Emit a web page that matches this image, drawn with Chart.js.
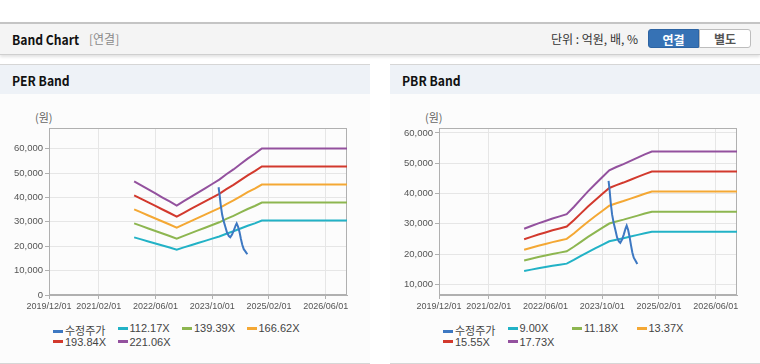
<!DOCTYPE html>
<html>
<head>
<meta charset="utf-8">
<script src="https://cdn.jsdelivr.net/npm/chart.js@4.4.0/dist/chart.umd.min.js"></script>
<style>
  html, body { margin:0; padding:0; background:#fff; width:760px; height:364px; overflow:hidden; }
  body { position:relative; font-family:"Noto Sans CJK KR","Noto Sans",sans-serif; }
  .topbar { position:absolute; left:0; top:22px; width:760px; height:30px; background:#f4f4f4;
            border-top:2px solid #c4c4c4; border-bottom:1px solid #cfcfcf; box-shadow:0 2px 3px rgba(0,0,0,0.12); }
  .title { position:absolute; left:12px; top:5px; font-size:13.5px; font-weight:bold; color:#111; transform:scaleX(0.9); transform-origin:0 0; }
  .sub { position:absolute; left:89px; top:6px; font-size:12px; color:#8a8a8a; }
  .unit { position:absolute; left:551px; top:6px; font-size:12px; color:#333; }
  .btn1 { position:absolute; left:648px; top:5px; width:51px; height:19px; background:#3672b5; color:#fff;
          font-size:12px; font-weight:bold; text-align:center; line-height:19px; border-radius:3px 0 0 3px; border:1px solid #2d64a3; box-sizing:border-box; }
  .btn2 { position:absolute; left:699px; top:5px; width:52px; height:19px; background:#fff; color:#555;
          font-size:12px; font-weight:bold; text-align:center; line-height:17px; border-radius:0 3px 3px 0; border:1px solid #bdbdbd; box-sizing:border-box; }
  .panel { position:absolute; top:64px; width:370px; height:298px; background:#fcfcfc; border-top:1px solid #d6d6d6; border-bottom:1px solid #d6d6d6; }
  .phead { position:absolute; left:0; top:0; width:100%; height:29px; background:#eef2f7; }
  .phead span { position:absolute; left:12px; top:5px; font-size:13.5px; font-weight:bold; color:#111; transform:scaleX(0.9); transform-origin:0 0; }
  canvas { position:absolute; }
  .ytitle { position:absolute; font-size:11px; color:#666; }
  .legend { position:absolute; font-family:"Liberation Sans",Arial,sans-serif; font-size:11px; color:#444; }
  .li { position:absolute; white-space:nowrap; }
  .li i { display:inline-block; width:10px; height:3px; vertical-align:middle; margin-right:2px; position:relative; top:-1px; }
</style>
</head>
<body>
<div class="topbar">
  <span class="title">Band Chart</span><span class="sub">[연결]</span>
  <span class="unit">단위 : 억원, 배, %</span>
  <div class="btn1">연결</div><div class="btn2">별도</div>
</div>
<div class="panel" style="left:0"><div class="phead"><span>PER Band</span></div></div>
<div class="panel" style="left:390px"><div class="phead"><span>PBR Band</span></div></div>
<div class="ytitle" style="left:35px; top:109px">(원)</div>
<div class="ytitle" style="left:425px; top:109px">(원)</div>
<canvas id="per" width="370" height="220" style="left:0; top:100px"></canvas>
<canvas id="pbr" width="370" height="220" style="left:390px; top:100px"></canvas>
<div class="legend" id="legPer" style="left:53px; top:322px"></div>
<div class="legend" id="legPbr" style="left:443px; top:322px"></div>
<script>
// ---- x axis (months since 2019/12/01) ----
const xTickMonths = [0, 14, 30, 46, 62, 78];
const xTickLabels = ['2019/12/01','2021/02/01','2022/06/01','2023/10/01','2025/02/01','2026/06/01'];
const bandMonths = [24,26,28,30,32,34,36,38,40,42,44,46,48,50,52,54,56,58,60,84];

// ---- adjusted price (수정주가) ----
const priceMonths = [47.8,48.1,48.4,48.8,49.2,49.7,50.2,50.7,51.1,51.6,52.1,52.6,52.9,53.3,53.7,54.1,54.5,54.9,55.4,55.9];
const priceValues = [44200,41000,37000,33000,30500,28000,25500,24200,23700,24800,26500,28500,29400,28000,25800,23000,20500,18800,17800,16700];

// ---- PER band ----
const perLabels = ['112.17X','139.39X','166.62X','193.84X','221.06X'];
const per1 = [23634,22804,21963,21133,20291,19461,18620,19518,20415,21312,22210,23107,24004,25126,26136,27257,28379,29389,30510,30510];
const per2 = [29369,28338,27293,26261,25216,24184,23139,24254,25369,26484,27599,28714,29829,31223,32478,33872,35266,36520,37914,37914];
const per3 = [35107,33874,32624,31391,30142,28909,27659,28992,30325,31658,32991,34324,35657,37323,38822,40489,42155,43654,45321,45321];
const per4 = [40842,39408,37954,36520,35066,33631,32177,33728,35279,36830,38380,39931,41482,43420,45165,47103,49042,50786,52724,52724];
const per5 = [46577,44941,43284,41648,39990,38354,36696,38464,40233,42001,43770,45538,47307,49517,51507,53718,55928,57918,60128,60128];
const perYTicks = [0,10000,20000,30000,40000,50000,60000];

// ---- PBR band ----
const pbrLabels = ['9.00X','11.18X','13.37X','15.55X','17.73X'];
const pbr1 = [14400,14850,15300,15705,16110,16470,16830,18045,19350,20655,21870,23040,24210,24750,25245,25785,26325,26865,27360,27360];
const pbr2 = [17888,18447,19006,19509,20012,20459,20907,22416,24037,25658,27167,28621,30074,30745,31360,32031,32702,33372,33987,33987];
const pbr3 = [21392,22061,22729,23331,23932,24467,25002,26807,28746,30684,32489,34227,35965,36768,37503,38305,39107,39909,40645,40645];
const pbr4 = [24880,25658,26435,27135,27835,28457,29079,31178,33433,35687,37787,39808,41830,42763,43618,44551,45484,46417,47272,47272];
const pbr5 = [28368,29255,30141,30939,31737,32446,33155,35549,38120,40690,43084,45389,47694,48758,49733,50796,51860,52924,53899,53899];
const pbrYTicks = [10000,20000,30000,40000,50000,60000];

const priceLabel = '수정주가';
const colors = ['#3d78c2','#22b2c6','#8db650','#f4a834','#d2392d','#93519e'];

function pts(xs, ys){ return xs.map((x,i)=>({x:x, y:ys[i]})); }

const boxPlugin = {
  id:'box',
  beforeDatasetsDraw(chart){
    const a = chart.chartArea, c = chart.ctx;
    c.save(); c.strokeStyle = '#b0b0b0'; c.lineWidth = 1;
    c.strokeRect(Math.round(a.left)+0.5, Math.round(a.top)+0.5, Math.round(a.right-a.left)-1, Math.round(a.bottom-a.top)-1);
    c.restore();
  }
};

function makeChart(id, bandSeries, labels, yMin, yMax, yTicks){
  const datasets = [{label:priceLabel, data:pts(priceMonths, priceValues)}];
  bandSeries.forEach((s,i)=>datasets.push({label:labels[i], data:pts(bandMonths, s)}));
  datasets.forEach((d,i)=>{ d.borderColor = colors[i]; d.backgroundColor = colors[i]; d.borderWidth = 2; d.pointRadius = 0; d.tension = 0; d.fill = false; });
  new Chart(document.getElementById(id), {
    type:'line',
    data:{datasets},
    plugins:[boxPlugin],
    options:{
      responsive:false, animation:false,
      layout:{padding:{top:28, right:23, left:0, bottom:0}},
      plugins:{legend:{display:false}, tooltip:{enabled:false}},
      scales:{
        x:{type:'linear', min:0, max:84,
           afterBuildTicks:s=>{ s.ticks = xTickMonths.map(v=>({value:v})); },
           afterFit:s=>{ s.height = 25; },
           ticks:{autoSkip:false, maxRotation:0, padding:2, color:'#555',
                  font:{family:'"Liberation Sans",Arial,sans-serif', size:9},
                  callback:(v)=>xTickLabels[xTickMonths.indexOf(v)]},
           grid:{color:'#e6e6e6', tickColor:'#b0b0b0', tickLength:4},
           border:{color:'#b0b0b0'}},
        y:{type:'linear', min:yMin, max:yMax,
           afterBuildTicks:s=>{ s.ticks = yTicks.map(v=>({value:v})); },
           afterFit:s=>{ s.width = 49; },
           ticks:{padding:2, color:'#555',
                  font:{family:'"Liberation Sans",Arial,sans-serif', size:9.5},
                  callback:(v)=>v.toLocaleString('en-US')},
           grid:{color:'#e6e6e6', tickColor:'#b0b0b0', tickLength:4},
           border:{color:'#b0b0b0'}}
      }
    }
  });
}

function makeLegend(id, labels){
  const el = document.getElementById(id);
  const all = [priceLabel].concat(labels);
  all.forEach((t,i)=>{
    const d = document.createElement('div');
    d.className = 'li';
    d.style.left = ((i%4)*64.5)+'px';
    d.style.top = (Math.floor(i/4)*13.5)+'px';
    d.innerHTML = '<i style="background:'+colors[i]+'"></i>' + (i===0 ? '<span style="font-family:\'Noto Sans CJK KR\',sans-serif;font-size:11px">'+t+'</span>' : t);
    el.appendChild(d);
  });
}

makeChart('per', [per1,per2,per3,per4,per5], perLabels, 0, 68500, perYTicks);
makeChart('pbr', [pbr1,pbr2,pbr3,pbr4,pbr5], pbrLabels, 6460, 61650, pbrYTicks);
makeLegend('legPer', perLabels);
makeLegend('legPbr', pbrLabels);
</script>
</body>
</html>
